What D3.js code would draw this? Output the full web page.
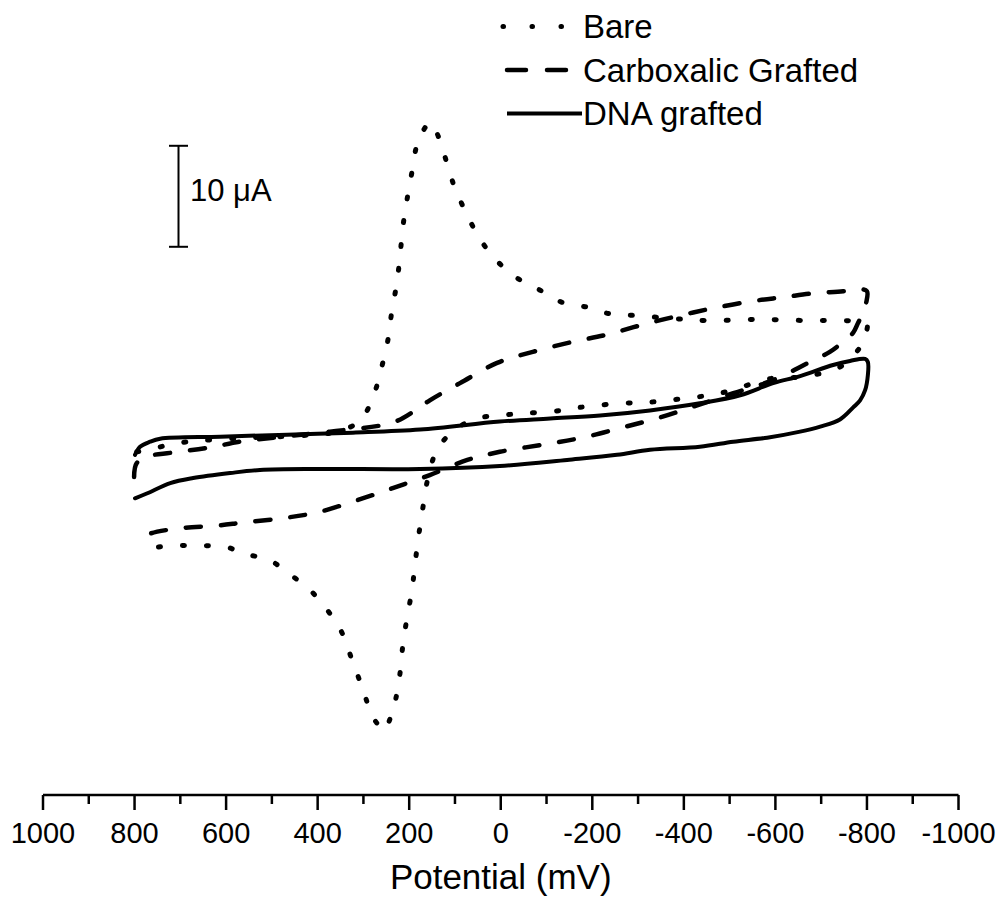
<!DOCTYPE html>
<html>
<head>
<meta charset="utf-8">
<script src="https://cdn.jsdelivr.net/npm/d3@7"></script>
<style>
  body { margin: 0; background: #fff; }
  svg { display: block; font-family: "Liberation Sans", Arial, sans-serif; }
</style>
</head>
<body>
<script>
// potential (mV) and current (uA), in scan order
var bareE = [795, 760, 716, 657, 548, 439, 358, 307, 277, 260, 246, 238, 227, 220, 214, 205, 194, 183, 168, 155, 141, 126, 107, 100, 73, 43, 6, -36, -86, -134, -191, -235, -294, -376, -451, -560, -671, -746, -781, -800, -798, -789, -781, -741, -654, -595, -479, -385, -320, -261, -173, -114, -46, 2, 52, 100, 139, 159, 170, 179, 187, 194, 205, 214, 220, 231, 244, 253, 268, 281, 303, 325, 347, 380, 421, 465, 506, 560, 602, 663, 722, 775];
var bareI = [1.8, 2.1, 2.6, 2.9, 3.2, 3.4, 3.8, 4.9, 7.5, 10.2, 13.0, 15.7, 18.5, 21.2, 24.0, 26.7, 29.5, 32.2, 33.7, 34.4, 33.5, 31.6, 28.8, 27.9, 25.2, 22.7, 20.6, 19.0, 17.8, 16.6, 16.1, 15.5, 15.3, 15.0, 14.8, 14.9, 14.8, 14.8, 14.7, 14.4, 13.6, 12.7, 11.9, 10.2, 9.2, 9.1, 7.6, 7.0, 6.7, 6.6, 6.2, 5.8, 5.6, 5.4, 5.1, 4.0, 2.0, -0.8, -3.7, -6.4, -9.2, -11.9, -14.7, -17.4, -20.1, -23.0, -24.9, -25.8, -25.2, -24.3, -21.5, -18.8, -16.1, -13.8, -11.7, -10.2, -8.9, -8.3, -7.6, -7.5, -7.5, -7.8];

var carbE = [801, 795, 766, 722, 639, 570, 497, 373, 236, 187, 155, 89, 8, -70, -158, -232, -311, -392, -473, -562, -617, -682, -748, -781, -800, -798, -792, -781, -770, -748, -719, -671, -595, -508, -429, -348, -265, -178, -90, 2, 73, 155, 236, 314, 401, 482, 563, 620, 707, 766, 781, 799];
var carbI = [-0.7, 0.7, 1.4, 1.7, 2.2, 2.8, 3.2, 3.8, 4.7, 5.9, 6.9, 8.6, 10.6, 11.7, 12.7, 13.4, 14.4, 15.3, 16.1, 16.8, 17.1, 17.5, 17.7, 17.9, 17.7, 16.5, 15.6, 14.6, 13.6, 12.7, 11.7, 10.6, 8.9, 7.6, 6.4, 5.2, 4.2, 3.2, 2.5, 1.8, 1.0, -0.5, -1.8, -3.0, -4.2, -4.8, -5.2, -5.5, -5.8, -6.3, -6.7, -7.0];

var dnaE = [799, 788, 766, 744, 613, 467, 323, 176, 2, -108, -217, -326, -435, -523, -595, -654, -726, -763, -796, -802, -802, -796, -785, -770, -741, -698, -654, -582, -508, -435, -326, -254, -145, 2, 176, 395, 526, 591, 672, 722, 772, 799];
var dnaI = [1.5, 2.3, 2.8, 3.1, 3.3, 3.5, 3.7, 4.0, 4.8, 5.1, 5.4, 5.9, 6.6, 7.4, 8.6, 9.3, 10.4, 10.8, 11.0, 10.7, 9.4, 7.9, 6.9, 6.2, 5.0, 4.3, 3.8, 3.2, 2.8, 2.3, 2.0, 1.5, 1.0, 0.4, 0.1, 0.1, 0.0, -0.3, -0.8, -1.3, -2.3, -2.8];

var seriesNames = ["Bare", "Carboxalic Grafted", "DNA grafted"];
var majorTicks = [1000, 800, 600, 400, 200, 0, -200, -400, -600, -800, -1000];
var minorTicks = [900, 700, 500, 300, 100, -100, -300, -500, -700, -900];
var scaleBarLabel = "10 \u03bcA";
var scaleBarTop = 32.1, scaleBarSize = 10; // uA

var width = 1000,
    height = 909;

var x = d3.scaleLinear().domain([1000, -1000]).range([43, 958.5]);
var y = d3.scaleLinear().domain([-30, 30]).range([773, 167]);

var svg = d3.select("body").append("svg")
    .attr("width", width)
    .attr("height", height);

function zip(es, is) {
  return es.map(function(e, i) { return [e, is[i]]; });
}

var styles = [
  { dash: "2,22", width: 5 },
  { dash: "15,20", width: 4.5 },
  { dash: null, width: 4 }
];

var series = [zip(bareE, bareI), zip(carbE, carbI), zip(dnaE, dnaI)];

var line = d3.line()
    .x(function(d) { return x(d[0]); })
    .y(function(d) { return y(d[1]); })
    .curve(d3.curveCatmullRom.alpha(0.5));

svg.selectAll(".cv")
    .data(series)
  .enter().append("path")
    .attr("class", "cv")
    .attr("d", line)
    .attr("fill", "none")
    .attr("stroke", "#000")
    .attr("stroke-width", function(d, i) { return styles[i].width; })
    .attr("stroke-linecap", "round")
    .attr("stroke-linejoin", "round")
    .attr("stroke-dasharray", function(d, i) { return styles[i].dash; });

// bottom axis, drawn by hand to get the major/minor tick look
var axisY = 795;
var axis = svg.append("g");

axis.append("line")
    .attr("x1", x(1000)).attr("x2", x(-1000))
    .attr("y1", axisY).attr("y2", axisY)
    .attr("stroke", "#000").attr("stroke-width", 2.5);

axis.selectAll(".major")
    .data(majorTicks)
  .enter().append("line")
    .attr("x1", x).attr("x2", x)
    .attr("y1", axisY).attr("y2", axisY + 15)
    .attr("stroke", "#000").attr("stroke-width", 2.5);

axis.selectAll(".minor")
    .data(minorTicks)
  .enter().append("line")
    .attr("x1", x).attr("x2", x)
    .attr("y1", axisY).attr("y2", axisY + 9)
    .attr("stroke", "#000").attr("stroke-width", 2.5);

axis.selectAll(".lbl")
    .data(majorTicks)
  .enter().append("text")
    .attr("x", x)
    .attr("y", 843)
    .attr("text-anchor", "middle")
    .attr("font-size", 29)
    .text(function(d) { return d; });

svg.append("text")
    .attr("x", x(0))
    .attr("y", 889)
    .attr("text-anchor", "middle")
    .attr("font-size", 35)
    .text("Potential (mV)");

// current scale bar
var barX = 178.5,
    barTop = y(scaleBarTop),
    barBot = y(scaleBarTop - scaleBarSize);
var bar = svg.append("g").attr("stroke", "#000").attr("stroke-width", 2);
bar.append("line").attr("x1", barX).attr("x2", barX).attr("y1", barTop).attr("y2", barBot);
bar.append("line").attr("x1", barX - 9.5).attr("x2", barX + 9.5).attr("y1", barTop).attr("y2", barTop);
bar.append("line").attr("x1", barX - 9.5).attr("x2", barX + 9.5).attr("y1", barBot).attr("y2", barBot);

svg.append("text")
    .attr("x", 190)
    .attr("y", 201)
    .attr("font-size", 31)
    .text(scaleBarLabel);

// legend
var legend = svg.selectAll(".legend")
    .data(seriesNames)
  .enter().append("g")
    .attr("class", "legend")
    .attr("transform", function(d, i) { return "translate(0," + (26.5 + i * 43.5) + ")"; });

legend.append("line")
    .attr("x1", function(d, i) { return i == 0 ? 503 : 507; })
    .attr("x2", 582)
    .attr("y1", 0).attr("y2", 0)
    .attr("stroke", "#000")
    .attr("stroke-width", function(d, i) { return styles[i].width; })
    .attr("stroke-linecap", function(d, i) { return i == 2 ? "butt" : "round"; })
    .attr("stroke-dasharray", function(d, i) { return i == 0 ? "0.5,28.5" : i == 1 ? "19,21" : null; });

legend.append("text")
    .attr("x", 583)
    .attr("y", 11.5)
    .attr("font-size", 33)
    .text(function(d) { return d; });
</script>
</body>
</html>
